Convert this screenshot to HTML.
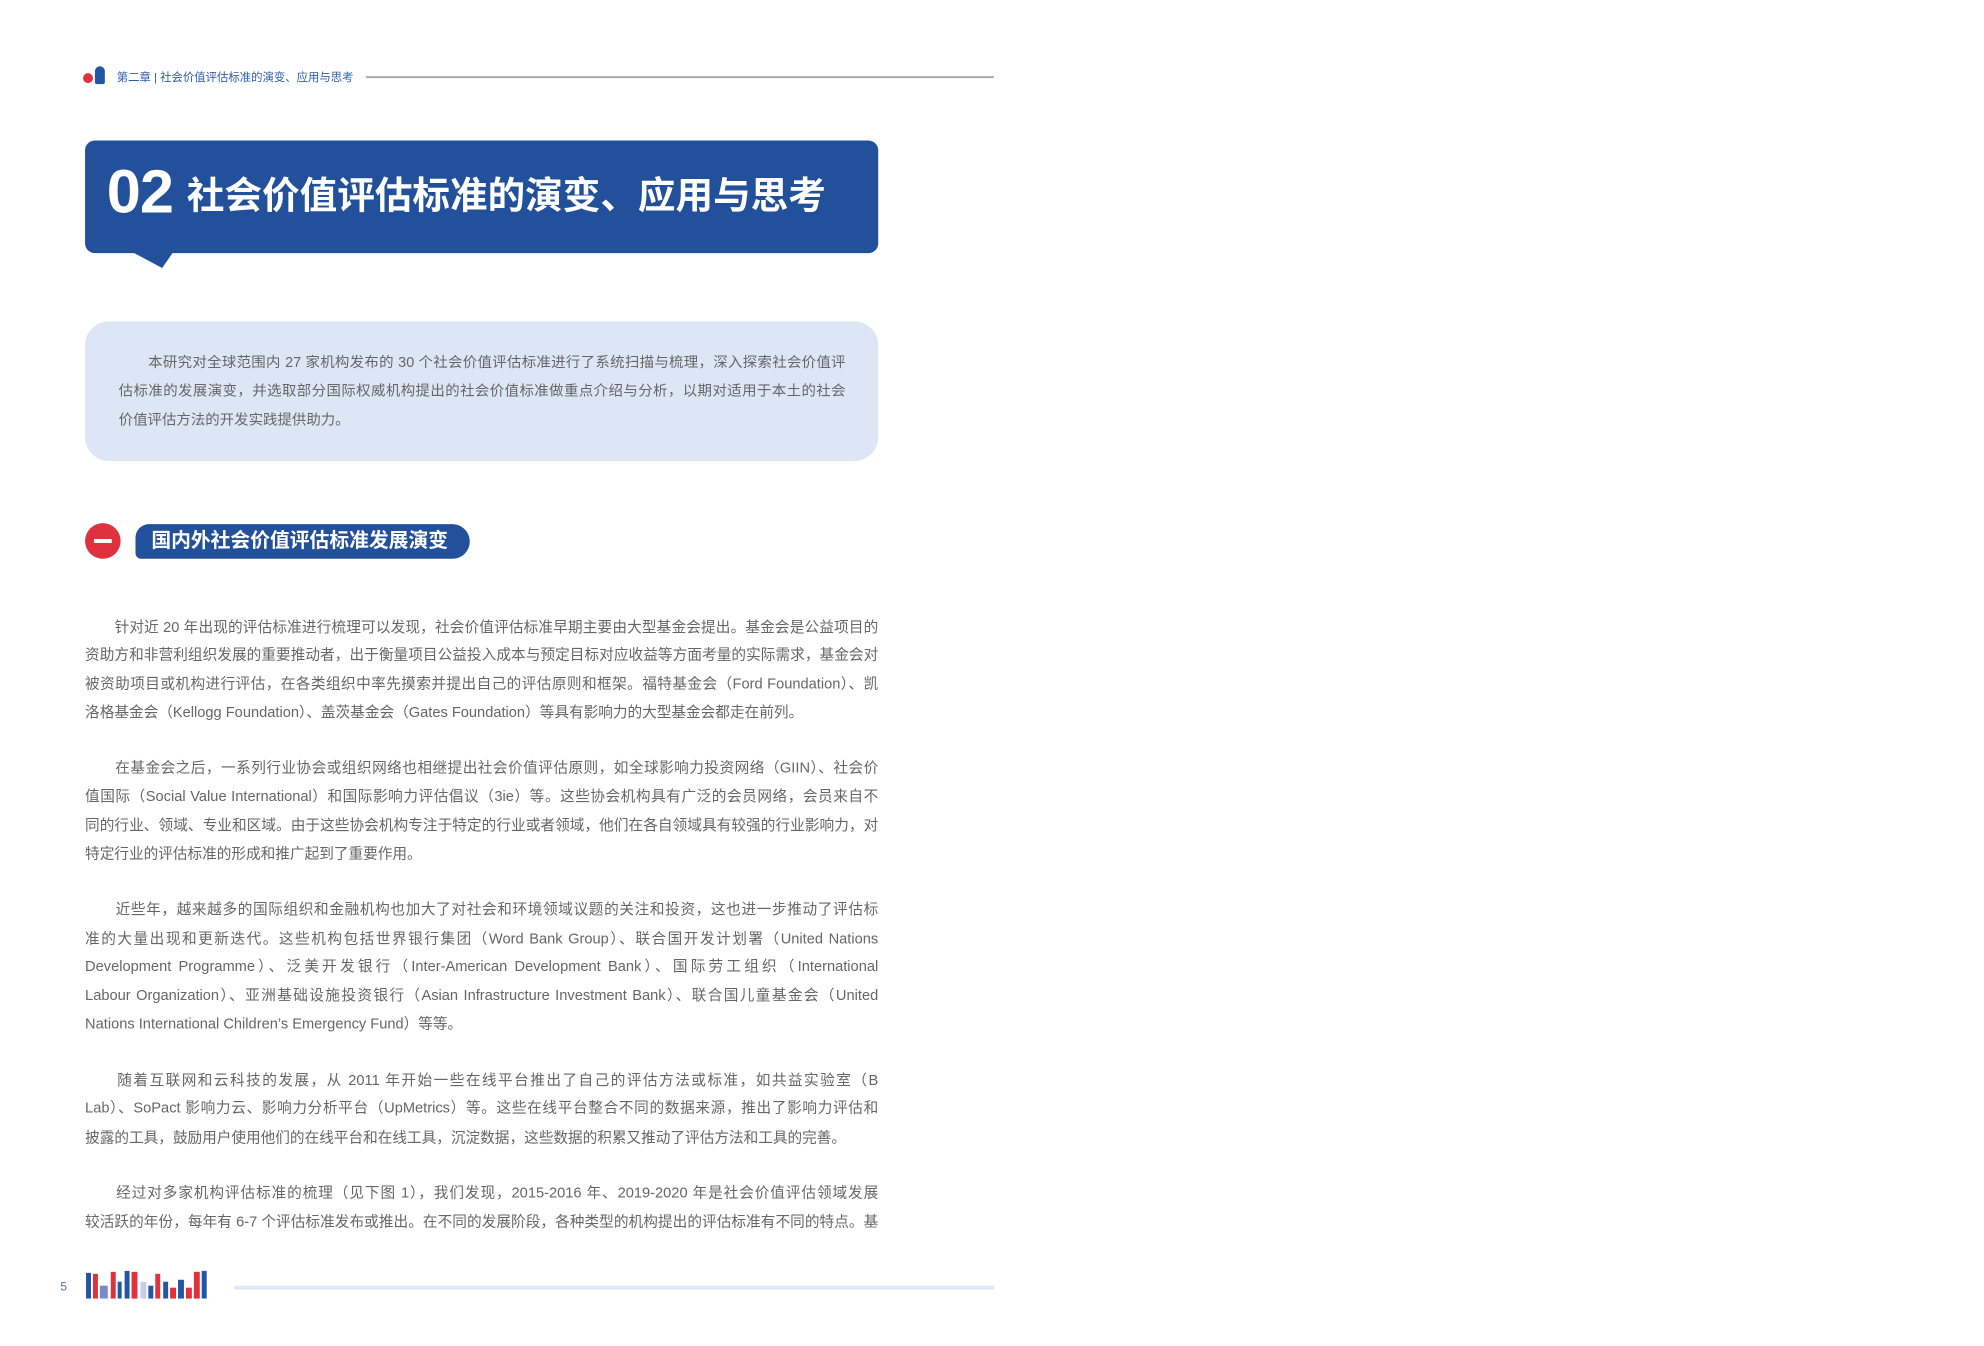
<!DOCTYPE html>
<html><head><meta charset="utf-8">
<style>
*{margin:0;padding:0;box-sizing:border-box}
body{width:1984px;height:1346px;background:#fff;position:relative;overflow:hidden;font-family:"Liberation Sans","Noto Sans CJK SC",sans-serif}
#w{position:absolute;left:0;top:0;width:1984px;height:1346px;transform:scale(0.989);transform-origin:0 0}
.abs{position:absolute}
.ln{position:absolute;left:86px;width:802px;font-size:14.8px;color:#666;line-height:20px;white-space:nowrap;text-align:justify;text-align-last:justify}
.ln.l{text-align-last:left}
.it{position:absolute;left:120px;width:735px;font-size:14.6px;color:#666;line-height:20px;white-space:nowrap;text-align:justify;text-align-last:justify}
.it.l{text-align-last:left}
</style></head><body><div id="w">
<div class="abs" style="left:84px;top:74px;width:10px;height:10px;border-radius:50%;background:#e0313e"></div>
<div class="abs" style="left:96px;top:67px;width:10px;height:18px;border-radius:5px 5px 2px 2px;background:#2456a6"></div>
<div class="abs" style="left:118px;top:70px;font-size:11.5px;color:#2f5ca8;white-space:nowrap">第二章 | 社会价值评估标准的演变、应用与思考</div>
<div class="abs" style="left:370px;top:77px;width:635px;height:2px;background:#a8a8a8"></div>

<div class="abs" style="left:86px;top:142px;width:802px;height:114px;background:#22509a;border-radius:10px"></div>
<svg class="abs" style="left:0;top:0" width="300" height="300"><polygon points="134,255 175,255 164,271" fill="#22509a"/></svg>
<div class="abs" style="left:108px;top:160px;font-size:62px;color:#fff;line-height:70px;letter-spacing:-1px;font-weight:bold">02</div>
<div class="abs" style="left:189px;top:176px;font-size:38px;color:#fff;line-height:46px;white-space:nowrap;font-weight:bold">社会价值评估标准的演变、应用与思考</div>

<div class="abs" style="left:86px;top:325px;width:802px;height:141px;background:#dde6f4;border-radius:24px"></div>
<div class="it" style="top:357px">　　本研究对全球范围内 27 家机构发布的 30 个社会价值评估标准进行了系统扫描与梳理，深入探索社会价值评</div>
<div class="it" style="top:386px">估标准的发展演变，并选取部分国际权威机构提出的社会价值标准做重点介绍与分析，以期对适用于本土的社会</div>
<div class="it l" style="top:415px">价值评估方法的开发实践提供助力。</div>

<div class="abs" style="left:86px;top:529px;width:36px;height:36px;border-radius:50%;background:#e0313e"></div>
<div class="abs" style="left:95px;top:545px;width:18px;height:4px;background:#fff"></div>
<div class="abs" style="left:137px;top:530px;width:338px;height:35px;background:#22509a;border-radius:14px 18px 18px 6px"></div>
<div class="abs" style="left:153px;top:533px;font-size:20px;color:#fff;line-height:28px;font-weight:bold;white-space:nowrap">国内外社会价值评估标准发展演变</div>

<div class="ln" style="top:625px">　　针对近 20 年出现的评估标准进行梳理可以发现，社会价值评估标准早期主要由大型基金会提出。基金会是公益项目的</div>
<div class="ln" style="top:653px">资助方和非营利组织发展的重要推动者，出于衡量项目公益投入成本与预定目标对应收益等方面考量的实际需求，基金会对</div>
<div class="ln" style="top:682px">被资助项目或机构进行评估，在各类组织中率先摸索并提出自己的评估原则和框架。福特基金会（Ford Foundation）、凯</div>
<div class="ln l" style="top:711px">洛格基金会（Kellogg Foundation）、盖茨基金会（Gates Foundation）等具有影响力的大型基金会都走在前列。</div>

<div class="ln" style="top:767px">　　在基金会之后，一系列行业协会或组织网络也相继提出社会价值评估原则，如全球影响力投资网络（GIIN）、社会价</div>
<div class="ln" style="top:796px">值国际（Social Value International）和国际影响力评估倡议（3ie）等。这些协会机构具有广泛的会员网络，会员来自不</div>
<div class="ln" style="top:825px">同的行业、领域、专业和区域。由于这些协会机构专注于特定的行业或者领域，他们在各自领域具有较强的行业影响力，对</div>
<div class="ln l" style="top:854px">特定行业的评估标准的形成和推广起到了重要作用。</div>

<div class="ln" style="top:910px">　　近些年，越来越多的国际组织和金融机构也加大了对社会和环境领域议题的关注和投资，这也进一步推动了评估标</div>
<div class="ln" style="top:940px">准的大量出现和更新迭代。这些机构包括世界银行集团（Word Bank Group）、联合国开发计划署（United Nations</div>
<div class="ln" style="top:968px">Development Programme）、泛美开发银行（Inter-American Development Bank）、国际劳工组织（International</div>
<div class="ln" style="top:997px">Labour Organization）、亚洲基础设施投资银行（Asian Infrastructure Investment Bank）、联合国儿童基金会（United</div>
<div class="ln l" style="top:1026px">Nations International Children’s Emergency Fund）等等。</div>

<div class="ln" style="top:1083px">　　随着互联网和云科技的发展，从 2011 年开始一些在线平台推出了自己的评估方法或标准，如共益实验室（B</div>
<div class="ln" style="top:1111px">Lab）、SoPact 影响力云、影响力分析平台（UpMetrics）等。这些在线平台整合不同的数据来源，推出了影响力评估和</div>
<div class="ln l" style="top:1141px">披露的工具，鼓励用户使用他们的在线平台和在线工具，沉淀数据，这些数据的积累又推动了评估方法和工具的完善。</div>

<div class="ln" style="top:1197px">　　经过对多家机构评估标准的梳理（见下图 1），我们发现，2015-2016 年、2019-2020 年是社会价值评估领域发展</div>
<div class="ln" style="top:1226px">较活跃的年份，每年有 6-7 个评估标准发布或推出。在不同的发展阶段，各种类型的机构提出的评估标准有不同的特点。基</div>

<div class="abs" style="left:61px;top:1294px;font-size:12px;color:#4a72b8">5</div>
<svg class="abs" style="left:86px;top:1282px" width="140" height="32">
<rect x="1" y="5" width="5" height="26" fill="#2456a6"/><rect x="8" y="6" width="5" height="25" fill="#e0313e"/>
<rect x="15" y="18" width="8" height="13" fill="#7a8cc8"/><rect x="26" y="4" width="5" height="27" fill="#e0313e"/>
<rect x="33" y="14" width="4" height="17" fill="#2456a6"/><rect x="40" y="3" width="5" height="28" fill="#2456a6"/>
<rect x="47" y="4" width="6" height="27" fill="#e0313e"/><rect x="56" y="14" width="6" height="17" fill="#c7cde6"/>
<rect x="64" y="18" width="5" height="13" fill="#2456a6"/><rect x="71" y="6" width="5" height="25" fill="#e0313e"/>
<rect x="79" y="14" width="5" height="17" fill="#2456a6"/><rect x="86" y="20" width="6" height="11" fill="#e0313e"/>
<rect x="94" y="12" width="6" height="19" fill="#2456a6"/><rect x="102" y="20" width="6" height="11" fill="#e0313e"/>
<rect x="110" y="4" width="6" height="27" fill="#e0313e"/><rect x="118" y="3" width="5" height="28" fill="#2456a6"/>
</svg>
<div class="abs" style="left:237px;top:1300px;width:768px;height:4px;background:#dfe7f5"></div>
</div></body></html>
